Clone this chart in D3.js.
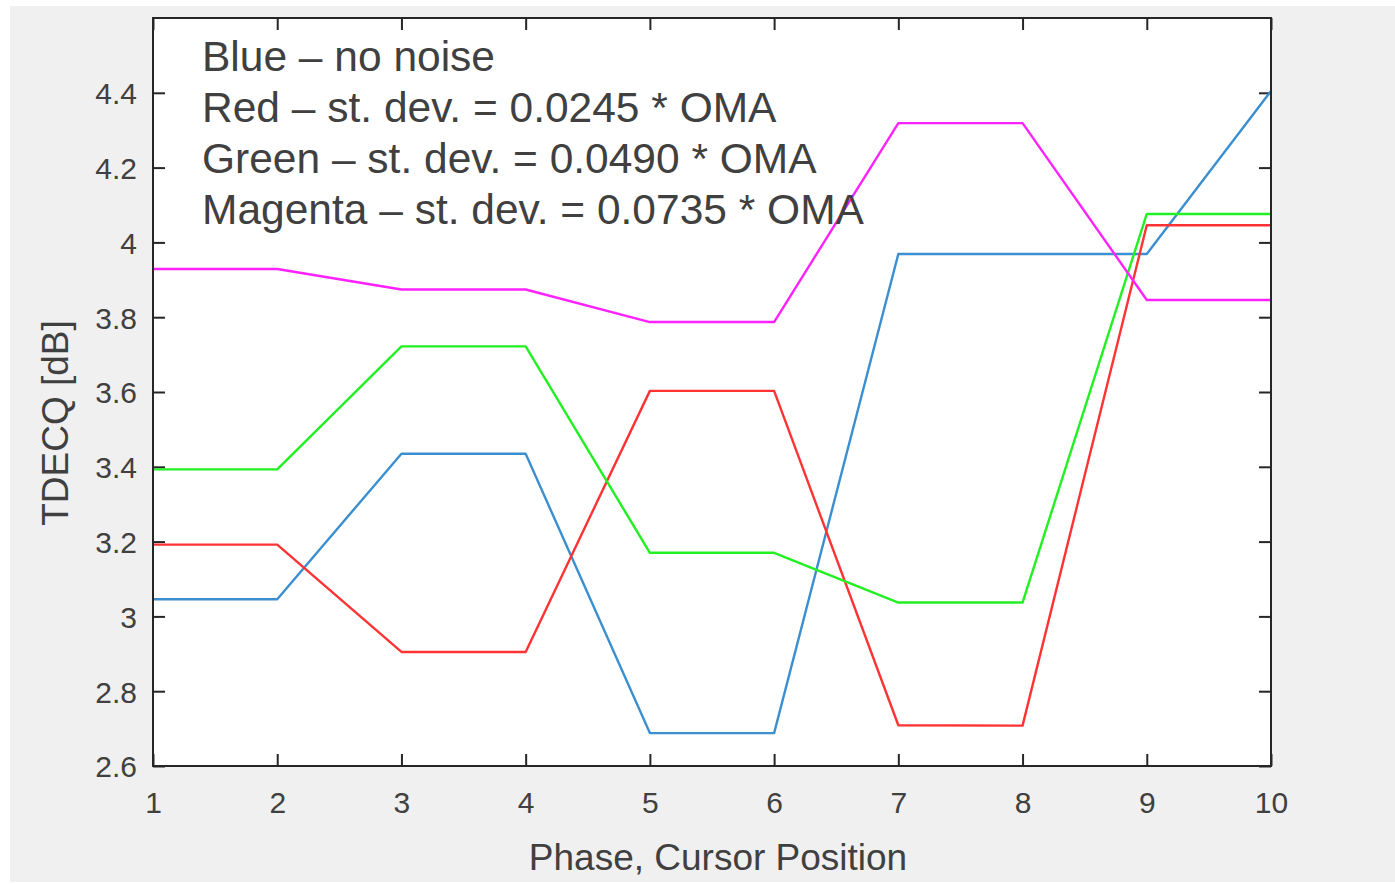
<!DOCTYPE html>
<html>
<head>
<meta charset="utf-8">
<script src="https://cdn.jsdelivr.net/npm/d3@7"></script>
<style>
  body { margin: 0; background: #ffffff; }
  svg { display: block; font-family: "Liberation Sans", Arial, sans-serif; }
</style>
</head>
<body>
<div id="chartParent"></div>
<script>
// x positions (phase, cursor position)
const positions = [1, 2, 3, 4, 5, 6, 7, 8, 9, 10];
const yTicks = [2.6, 2.8, 3, 3.2, 3.4, 3.6, 3.8, 4, 4.2, 4.4];

// TDECQ values
const blueVals    = [3.046, 3.046, 3.435, 3.435, 2.688, 2.688, 3.969, 3.969, 3.969, 4.405];
const redVals     = [3.192, 3.192, 2.905, 2.905, 3.603, 3.603, 2.709, 2.708, 4.046, 4.046];
const greenVals   = [3.393, 3.393, 3.722, 3.722, 3.170, 3.170, 3.037, 3.037, 4.076, 4.076];
const magentaVals = [3.929, 3.929, 3.874, 3.874, 3.787, 3.787, 4.319, 4.319, 3.846, 3.846];

const seriesNames  = ["Blue", "Red", "Green", "Magenta"];
const seriesColors = ["#3b8fd0", "#ff3333", "#22f022", "#ff22ff"];

const legendLines = [
  "Blue \u2013 no noise",
  "Red \u2013 st. dev. = 0.0245 * OMA",
  "Green \u2013 st. dev. = 0.0490 * OMA",
  "Magenta \u2013 st. dev. = 0.0735 * OMA"
];

const W = 1395, H = 884;
const margin = {top: 18, right: 124, bottom: 118, left: 153};
const width = W - margin.left - margin.right,
      height = H - margin.top - margin.bottom;

const root = d3.select("#chartParent")
  .append("svg")
  .attr("width", W)
  .attr("height", H);

// grey figure background
root.append("rect")
  .attr("x", 10).attr("y", 6)
  .attr("width", W - 10).attr("height", 876)
  .style("fill", "#f0f0f0");

const svg = root.append("g")
  .attr("transform", `translate(${margin.left}, ${margin.top})`);

svg.append("rect")
  .attr("x", 0).attr("y", 0)
  .attr("width", width).attr("height", height)
  .style("fill", "#ffffff");

const x = d3.scaleLinear().domain([1, 10]).range([0, width]);
const y = d3.scaleLinear().domain([2.6, 4.6]).range([height, 0]);

const tickLen = 12;
const axisColor = "#262626";
const labelColor = "#404040";

// bottom axis with inward ticks
const xAxis = svg.append("g")
  .attr("transform", `translate(0, ${height})`)
  .call(d3.axisBottom(x).tickValues(positions).tickSize(-tickLen).tickPadding(tickLen + 14).tickFormat(d3.format("d")));
// top ticks
svg.append("g")
  .call(d3.axisTop(x).tickValues(positions).tickSize(-tickLen).tickFormat(""));
// left axis
const yAxis = svg.append("g")
  .call(d3.axisLeft(y).tickValues(yTicks).tickSize(-tickLen).tickPadding(tickLen + 4).tickFormat(d => d3.format("")(d)));
// right ticks
svg.append("g")
  .attr("transform", `translate(${width}, 0)`)
  .call(d3.axisRight(y).tickValues(yTicks).tickSize(-tickLen).tickFormat(""));

svg.selectAll(".domain").remove();
svg.selectAll(".tick line").attr("stroke", axisColor).attr("stroke-width", 2);
svg.selectAll(".tick text")
  .attr("fill", labelColor)
  .style("font-size", "30px")
  .style("font-family", "Liberation Sans, Arial, sans-serif");
yAxis.selectAll(".tick text").attr("dy", "0.36em");

// the data lines
const allSeries = [blueVals, redVals, greenVals, magentaVals];
const line = d3.line()
  .x((d, i) => x(positions[i]))
  .y(d => y(d));

svg.append("g")
  .selectAll("path")
  .data(allSeries)
  .enter()
  .append("path")
    .attr("d", d => line(d))
    .attr("fill", "none")
    .attr("stroke", (d, i) => seriesColors[i])
    .attr("stroke-width", 2.4)
    .attr("stroke-linejoin", "round");

// box around the plot
svg.append("rect")
  .attr("x", 0).attr("y", 0)
  .attr("width", width).attr("height", height)
  .style("fill", "none")
  .style("stroke", axisColor)
  .style("stroke-width", 2);

// annotation text
svg.append("g")
  .selectAll("text")
  .data(legendLines)
  .enter()
  .append("text")
    .attr("x", 202 - margin.left)
    .attr("y", (d, i) => 71 - margin.top + i * 51)
    .text(d => d)
    .style("fill", "#404040")
    .style("font-size", "42.5px");

// axis labels
svg.append("text")
  .attr("text-anchor", "middle")
  .attr("x", 718 - margin.left)
  .attr("y", 870 - margin.top)
  .text("Phase, Cursor Position")
  .style("fill", "#404040")
  .style("font-size", "37px");

svg.append("text")
  .attr("text-anchor", "middle")
  .attr("transform", `rotate(-90)`)
  .attr("x", -(423 - margin.top))
  .attr("y", 68 - margin.left)
  .text("TDECQ [dB]")
  .style("fill", "#404040")
  .style("font-size", "37px");
</script>
</body>
</html>
